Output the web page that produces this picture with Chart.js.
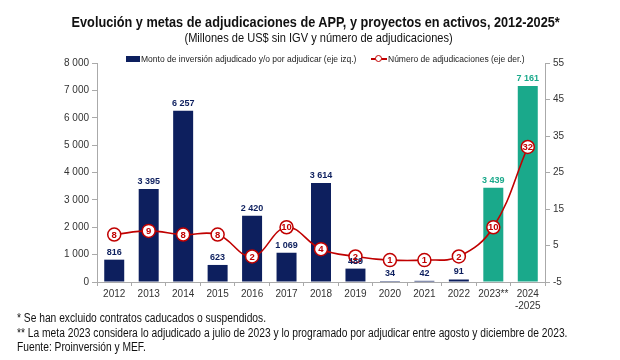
<!DOCTYPE html>
<html lang="es">
<head>
<meta charset="utf-8">
<title>Adjudicaciones de APP 2012-2025</title>
<script src="https://cdn.jsdelivr.net/npm/chart.js"></script>
<style>
    body, html { margin: 0; padding: 0; background: #fff; }
    #wrap { position: relative; width: 620px; height: 360px; overflow: hidden;
            font-family: "Liberation Sans", Arial, sans-serif; color: #222; }
    #wrap canvas { position: absolute; left: 0; top: 0; }
    /* no narrow font installed, so squeeze the regular one */
    .narrow { display: inline-block; transform: scaleX(0.82); white-space: nowrap; }
    .center { position: absolute; left: 0; text-align: center; white-space: nowrap; }
    #title { top: 13px; width: 631px; font-weight: bold; font-size: 15.5px; color: #111; }
    #title .narrow, #subtitle .narrow { transform-origin: center; }
    #subtitle { top: 30px; width: 638px; font-size: 13.5px; color: #111; }
    .leg { position: absolute; top: 54px; font-size: 8.5px; white-space: nowrap; color: #222; }
    .notes { position: absolute; left: 17px; font-size: 12.5px; color: #111; transform-origin: left; }
</style>
</head>
<body>
<div id="wrap">
    <canvas id="myChart" width="620" height="360"></canvas>
    <div id="title" class="center"><span class="narrow">Evolución y metas de adjudicaciones de APP, y proyectos en activos, 2012-2025*</span></div>
    <div id="subtitle" class="center"><span class="narrow">(Millones de US$ sin IGV y número de adjudicaciones)</span></div>
    <div class="leg" style="left:126px;"><span style="display:inline-block;width:14px;height:6px;background:#0d1f5e;vertical-align:0px;margin-right:1px;"></span>Monto de inversión adjudicado y/o por adjudicar (eje izq.)</div>
    <div class="leg" style="left:371px;"><span style="display:inline-block;position:relative;width:16px;height:8px;vertical-align:-1px;margin-right:1px;"><span style="position:absolute;left:0;top:3px;width:16px;height:1.5px;background:#c00000;"></span><span style="position:absolute;left:4px;top:0;width:5px;height:5px;border:1.2px solid #c00000;border-radius:50%;background:#fff;"></span></span>Número de adjudicaciones (eje der.)</div>
    <div class="notes narrow" style="top:311px;">* Se han excluido contratos caducados o suspendidos.</div>
    <div class="notes narrow" style="top:326px;">** La meta 2023 considera lo adjudicado a julio de 2023 y lo programado por adjudicar entre agosto y diciembre de 2023.</div>
    <div class="notes narrow" style="top:340px;">Fuente: Proinversión y MEF.</div>
</div>

<script>
    // data
    const years = ['2012', '2013', '2014', '2015', '2016', '2017', '2018', '2019', '2020', '2021', '2022', '2023**', ['2024', '-2025']]
    const montos = [816, 3395, 6257, 623, 2420, 1069, 3614, 489, 34, 42, 91, 3439, 7161]
    const adjudicaciones = [8, 9, 8, 8, 2, 10, 4, 2, 1, 1, 2, 10, 32]
    const leftTicks = [0, 1000, 2000, 3000, 4000, 5000, 6000, 7000, 8000]
    const rightTicks = [-5, 5, 15, 25, 35, 45, 55]

    const navy = '#0d1f5e'
    const teal = '#1aa98b'
    const red = '#c00000'
    const barColors = montos.map((v, i) => i >= 11 ? teal : navy)

    const fmt = v => String(v).replace(/\B(?=(\d{3})+(?!\d))/g, ' ')

    // labels above bars and inside the line markers
    const valueLabels = {
        id: 'valueLabels',
        afterDatasetsDraw(chart) {
            const ctx = chart.ctx
            ctx.save()
            ctx.textAlign = 'center'
            const bars = chart.getDatasetMeta(1)
            ctx.font = 'bold 9px "Liberation Sans", Arial, sans-serif'
            ctx.textBaseline = 'bottom'
            bars.data.forEach((el, i) => {
                ctx.fillStyle = barColors[i]
                ctx.fillText(fmt(montos[i]), el.x, el.y - 3)
            })
            const pts = chart.getDatasetMeta(0)
            ctx.font = 'bold 9.5px "Liberation Sans", Arial, sans-serif'
            ctx.textBaseline = 'middle'
            ctx.fillStyle = red
            pts.data.forEach((el, i) => {
                ctx.fillText(String(adjudicaciones[i]), el.x, el.y + 0.5)
            })
            ctx.restore()
        }
    }

    const tickFont = { family: '"Liberation Sans", Arial, sans-serif', size: 10 }

    const config = {
        data: {
            labels: years,
            datasets: [{
                type: 'line',
                label: 'Número de adjudicaciones (eje der.)',
                data: adjudicaciones,
                yAxisID: 'y2',
                borderColor: red,
                borderWidth: 1.6,
                tension: 0.4,
                pointRadius: 6.5,
                pointBorderWidth: 1.5,
                pointBackgroundColor: '#fff',
                pointBorderColor: red,
                order: 0
            }, {
                type: 'bar',
                label: 'Monto de inversión adjudicado y/o por adjudicar (eje izq.)',
                data: montos,
                yAxisID: 'y',
                backgroundColor: barColors,
                categoryPercentage: 1,
                barPercentage: 0.58,
                order: 1
            }]
        },
        options: {
            responsive: false,
            animation: false,
            layout: { padding: { top: 63, bottom: 48, left: 0, right: 0 } },
            plugins: {
                legend: { display: false },
                tooltip: { enabled: false }
            },
            scales: {
                x: {
                    grid: { drawOnChartArea: false, offset: true, tickLength: 4, color: '#aaa' },
                    border: { color: '#aaa' },
                    ticks: { font: tickFont, color: '#333', maxRotation: 0, autoSkip: false, padding: 2 },
                    afterFit(scale) { scale.height = 30 }
                },
                y: {
                    position: 'left',
                    min: 0, max: 8000,
                    afterBuildTicks(scale) { scale.ticks = leftTicks.map(v => ({ value: v })) },
                    grid: { drawOnChartArea: false, tickLength: 5, color: '#aaa' },
                    border: { color: '#aaa' },
                    ticks: { font: tickFont, color: '#333', padding: 3, callback: v => fmt(v) },
                    afterFit(scale) { scale.width = 97 }
                },
                y2: {
                    position: 'right',
                    min: -5, max: 55,
                    afterBuildTicks(scale) { scale.ticks = rightTicks.map(v => ({ value: v })) },
                    grid: { drawOnChartArea: false, tickLength: 5, color: '#aaa' },
                    border: { color: '#aaa' },
                    ticks: { font: tickFont, color: '#333', padding: 3 },
                    afterFit(scale) { scale.width = 75 }
                }
            }
        },
        plugins: [valueLabels]
    }

    const myChart = new Chart(document.getElementById('myChart'), config)
</script>
</body>
</html>
